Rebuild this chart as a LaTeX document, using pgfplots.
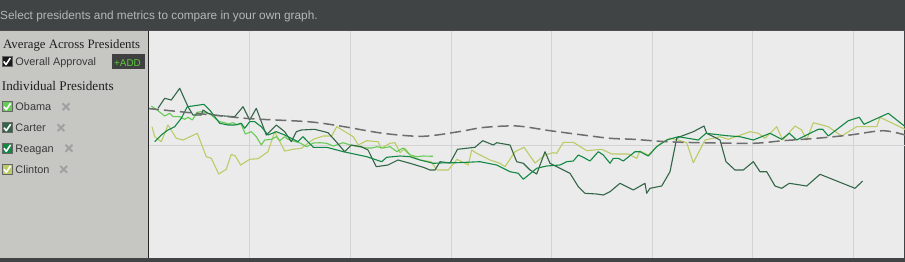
\documentclass[border=0pt]{standalone}
\usepackage{pgfplots}
\pgfplotsset{compat=1.18}
\usepackage{fontspec}
\setmainfont{Liberation Sans}
\newfontfamily\seriffont{Liberation Serif}
\definecolor{hdr}{HTML}{404444}
\definecolor{hdrtext}{HTML}{B4B8B8}
\definecolor{panel}{HTML}{C6C6C3}
\definecolor{plotbg}{HTML}{EBEBEB}
\definecolor{gridc}{HTML}{D3D3D3}
\definecolor{obama}{HTML}{66CC55}
\definecolor{carter}{HTML}{336648}
\definecolor{reagan}{HTML}{128844}
\definecolor{clinton}{HTML}{BBCC66}
\definecolor{avgc}{HTML}{6E6E6E}
\definecolor{xgrey}{HTML}{A0A0A0}
\definecolor{addbg}{HTML}{3F4141}
\definecolor{addtxt}{HTML}{5BCB3A}
\definecolor{itemtxt}{HTML}{3A3A3A}
\newcommand{\fs}[1]{\fontsize{#1}{#1}\selectfont}
\newcommand{\chk}[3]{%
  \fill[#3, draw=black!60, line width=0.4pt] (#1,#2) rectangle ++(10,10);
  \draw[white, line width=1.6pt, line join=round] (#1+2,#2+5) -- (#1+4.3,#2+8) -- (#1+8.6,#2+1.6);}
\newcommand{\xmk}[2]{%
  \draw[xgrey, line width=1.9pt] (#1-3.4,#2-3.4) -- (#1+3.4,#2+3.4) (#1-3.4,#2+3.4) -- (#1+3.4,#2-3.4);}
\begin{document}
\begin{tikzpicture}[x=1pt,y=1pt]
\path[use as bounding box] (0,0) rectangle (905,262);
\fill[hdr] (0,0) rectangle (905,262);
\begin{scope}[shift={(0,262)}, yscale=-1]
  \fill[panel] (0,31) rectangle (148,258);
  \fill[plotbg] (149,31) rectangle (905,258);
  \fill[black!85] (147.6,30.5) rectangle (148.8,258);
  \fill[black!70] (0,30) rectangle (905,31);
  \fill[hdr] (903.8,31) rectangle (905,258);
\end{scope}
\begin{axis}[
  at={(149pt,4pt)}, anchor=south west,
  scale only axis, width=756pt, height=227pt,
  xmin=149, xmax=905, ymin=31, ymax=258, y dir=reverse,
  axis line style={draw=none},
  major tick length=0pt,
  xtick={249,350,451,551,652,752,853}, ytick={145},
  xticklabels={}, yticklabels={},
  xticklabel style={inner sep=0pt}, yticklabel style={inner sep=0pt},
  grid=major, grid style={gridc, line width=1pt},
  no markers,
  every axis plot/.append style={line join=round},
]
\addplot[clinton, line width=1.1pt] table {
152 126.7
154.7 136.7
161.3 141.7
168 125
176.3 138.3
183 140
197.3 133.3
206.3 156.7
211.3 158.3
218.7 174
226.3 169.3
231.3 154.3
235.3 156
240.7 165
249.7 159.3
258 158.7
268 151.7
274.7 131.7
284.7 151
293 149.3
301.3 148.3
313.3 139.3
323.3 136
331.7 136
336.7 126.7
353.3 136.7
358.3 145
366.7 140.7
378.3 141.7
381 148.3
390 143.3
395 142.7
400 152.7
405 148.3
410 155
420 160
431 161.7
437 170
448.3 170
457 159.3
468.3 165
471.7 150
476.7 153.3
490 160
500 163.3
505 166.7
515 151.7
524 147.3
535 163
545 155
553 152.7
556.7 153.3
563.3 142.3
573.3 142.3
586.7 150.7
601.7 149.3
611.7 154
628.3 154
636.7 158.3
640 151
648.3 155
658.3 145
670 138.3
678.3 140
686.7 142.7
693.3 162.7
705 140
720 136.7
728.3 139.3
750 131.7
758.3 133.3
765 138.3
776.7 126.7
782.7 140
795 126
801.7 130
806.7 140
813.3 122.7
828.3 126.7
841.7 136
856.7 126.7
876.7 126.7
880 117.3
905 129.3
};
\addplot[obama, line width=1.1pt] table {
151.3 106
158 110.7
164.7 116
169.7 113.3
173 116.7
179.7 116.7
184.7 119.3
188 117.3
192.3 120
197.3 112.3
201.3 111.7
206.3 112.7
211.3 115
216.3 119.3
219.7 121.7
224.7 122.7
228 124
233 122.7
237.3 125
240.7 123.3
245.3 134
251.3 131.7
256.3 136.7
261.3 145
264.7 140
271.3 139.3
276.3 136.7
279.7 140.7
284.7 136.7
288 139.3
293 141
300 143
306.7 146.7
313.3 143
320 142.7
326.7 143.3
333.3 146
343.3 142.7
350 145
358.3 146.7
366.7 148
372 148
377 146.7
383 148
390 146.7
397 151.7
403 148
410 155
417 156.7
423 156
433 156.3
};
\addplot[carter, line width=1.1pt] table {
158 108.3
164.7 98.3
171.3 100
179.7 88.3
188 106.7
193 115
201.3 115
203 110
208 113.3
214.7 115
224.7 116
234.7 116.7
243 106.7
249.7 120
256.3 108.3
266.3 135
276.3 125
284.7 131.7
291.3 141.7
296.3 131.7
301.3 130
314.7 129.3
328 132.7
334.7 140
344.7 151.7
351.3 145
361.3 146.7
368 150
376.3 166.7
388 165
398 160
410 163.3
423.3 167.3
430 170
435 170
440 161.7
450 163
457.5 149.3
475 147.3
482.7 140.7
493.3 145
496.7 142.7
510 145
516.7 161.7
523.3 163.3
530 170
536.7 174
545 151.7
550 163.3
560 168.3
570 173.3
578.3 186.7
585 193.3
596.7 194
603.3 195
610 191.7
620 183.3
633.3 190
645 183.3
646.7 193.3
650 188.3
661.7 186
670 171.7
676.7 138.3
680 136.7
693.3 131.7
704 126
706.7 133.3
720 140
726 161.7
735 170
743.3 170
753.3 161.7
760 171.7
766.7 171.7
775 186
781.7 188.3
789.3 183.3
806.7 186
820 174.3
855 188.3
862.7 181
};
\addplot[reagan, line width=1.1pt] table {
154.7 141.7
161.3 135
168 130
174.7 126.7
181.3 118.3
187.3 106.7
194.7 105.7
204 104.3
209.7 110
214.7 116.7
219.7 123.3
228 125
234.7 125
241.3 123.3
244.7 128.3
249.7 121.7
254.7 121.7
261.3 126.7
268 135
276.3 131.7
284.7 135
291.3 138.3
298 141.7
303 136.7
313.3 147.3
326.7 147.3
343.3 151.7
366.7 156.7
381.7 161.7
386.7 157.3
400 156
410 156.7
420 160
433.3 163.3
446.7 162.7
456.7 162.7
480 161.7
496.7 165
510 171.7
518.3 173.3
523.3 179.3
536.7 168.3
546.7 166
560 165
566.7 161.7
573.3 161
578.3 155
583.3 157.3
590 161
598.3 151.7
603.3 155
610 163.3
613.3 158.3
618.3 158.3
623.3 161
635 151.7
640 151.7
648.3 156
656.7 146.7
666.7 140
678.3 136.7
698.3 140
706 133.3
726.7 135.7
740 136.7
753.3 140
770 133.3
781.7 139.3
789.3 133.3
796.7 140
810 133.3
818.3 129.3
822.7 129.3
828.3 136
848.3 120.7
859.3 117.3
864 124.3
888.3 113.3
905 126.5
};
\addplot[avgc, line width=1.5pt, dash pattern=on 11pt off 5pt, smooth, tension=0.5] table {
148 108.5
198 113.5
248 118.5
308 121.7
340 126
383 133.3
423 136.3
460 131.5
483 127.5
516.7 126
550 130.7
583 135
610 138.3
633 139.3
666.7 141.7
700 142.7
753 143.3
783 140.7
816.7 138.3
850 135
883 130.7
905 135
};
\end{axis}
\begin{scope}[shift={(0,262)}, yscale=-1]
  \node[anchor=base west, inner sep=0pt, text=hdrtext] at (0,20) {\fs{11.8}Select presidents and metrics to compare in your own graph.};
  \node[anchor=base west, inner sep=0pt, text=black!88] at (3,48.7) {\seriffont\fs{12.8}Average Across Presidents};
  \chk{1.7}{56.5}{black!90}
  \node[anchor=base west, inner sep=0pt, text=itemtxt] at (15.3,65.3) {\fs{10.9}Overall Approval};
  \fill[addbg] (112,54) rectangle (145,69.5);
  \node[anchor=base west, inner sep=0pt, text=addtxt] at (114,66.7) {\fs{9.9}+ADD};
  \node[anchor=base west, inner sep=0pt, text=black!88] at (1.7,91) {\seriffont\fs{13.2}Individual Presidents};
  \chk{2}{101.7}{obama}
  \node[anchor=base west, inner sep=0pt, text=itemtxt] at (15.3,110.7) {\fs{10.9}Obama};
  \xmk{66}{106.7}
  \chk{2}{122.7}{carter}
  \node[anchor=base west, inner sep=0pt, text=itemtxt] at (15.3,131.7) {\fs{10.9}Carter};
  \xmk{61}{127.7}
  \chk{2}{143.3}{reagan}
  \node[anchor=base west, inner sep=0pt, text=itemtxt] at (15.3,152.3) {\fs{10.9}Reagan};
  \xmk{69}{148.3}
  \chk{2}{164.3}{clinton}
  \node[anchor=base west, inner sep=0pt, text=itemtxt] at (15.3,173.3) {\fs{10.9}Clinton};
  \xmk{63.7}{169.3}
\end{scope}
\end{tikzpicture}
\end{document}
